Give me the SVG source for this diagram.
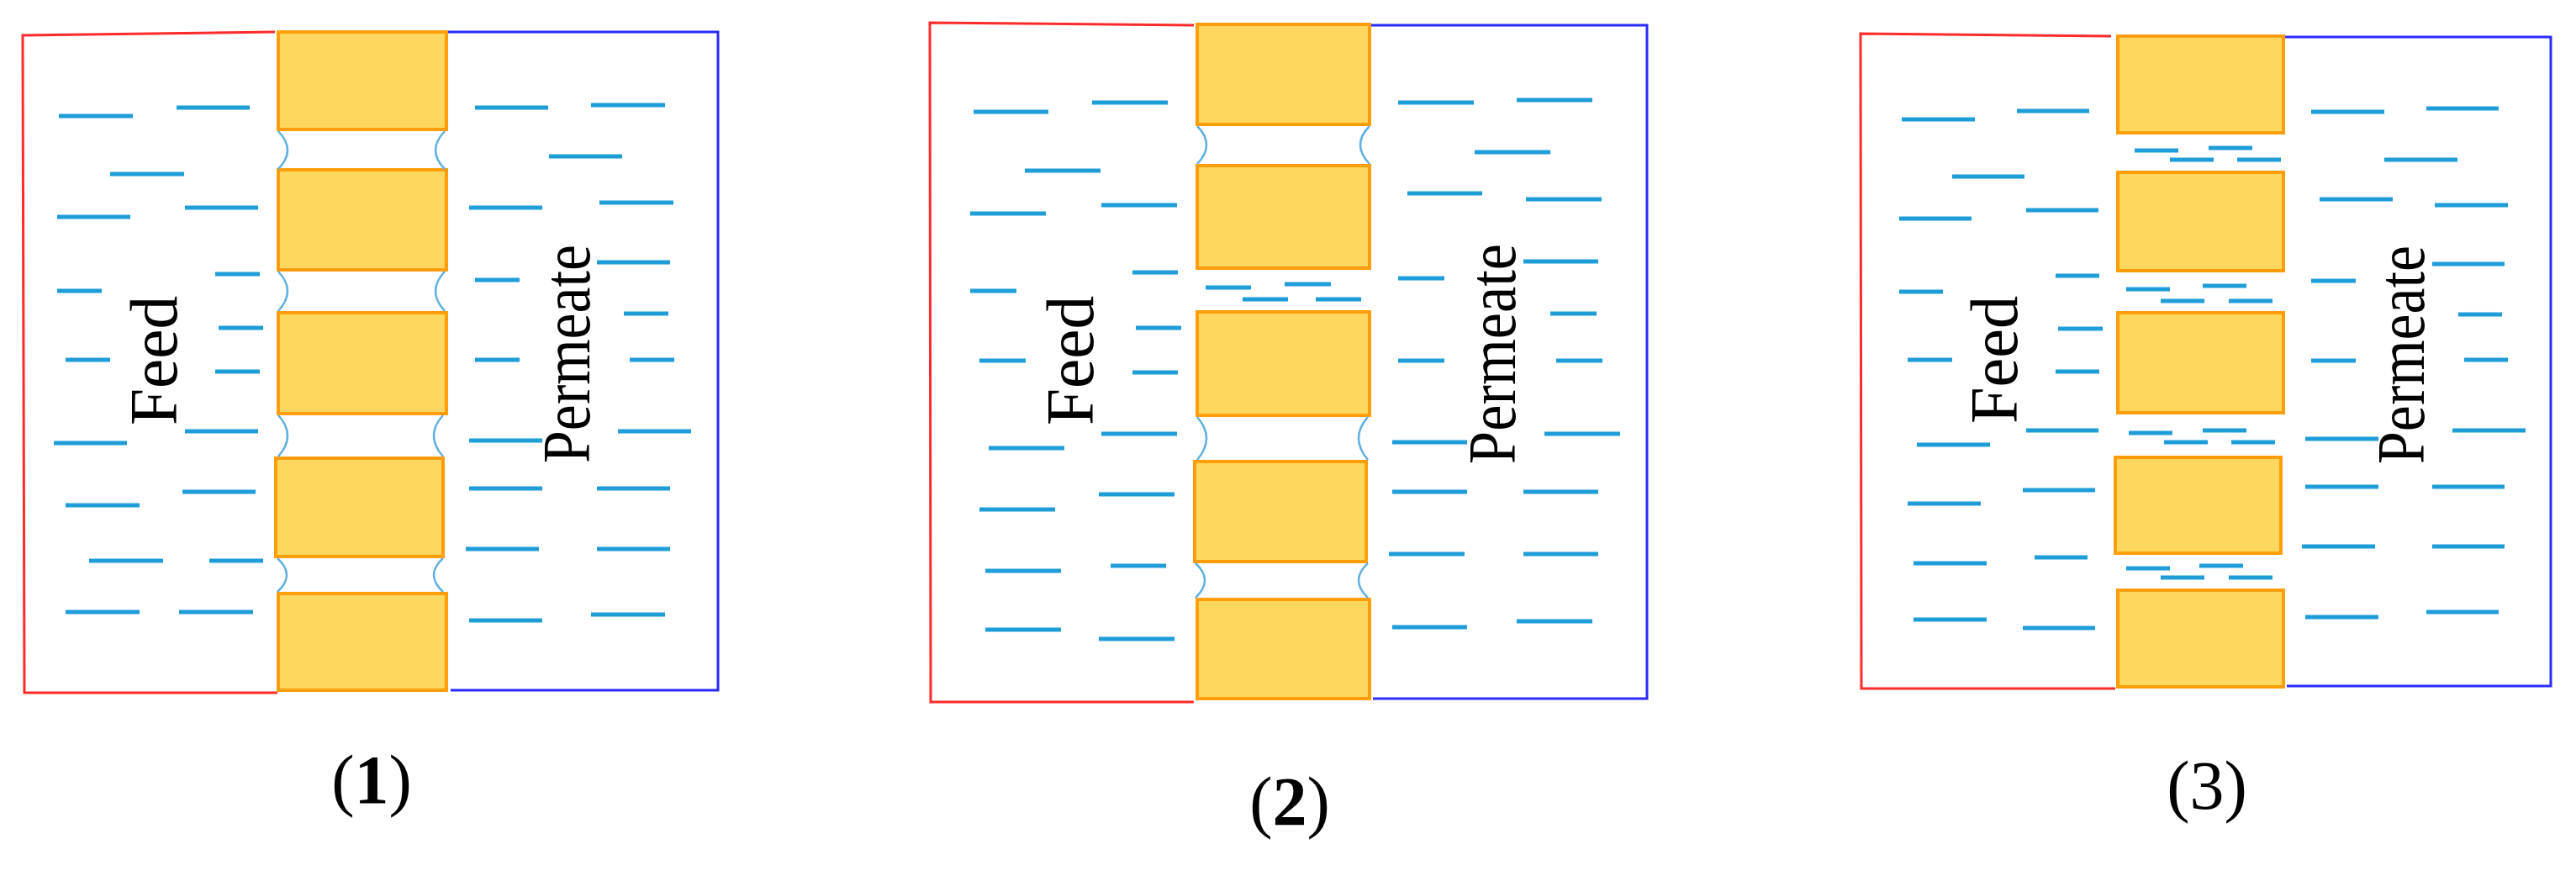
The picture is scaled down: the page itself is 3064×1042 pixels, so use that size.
<svg xmlns="http://www.w3.org/2000/svg" width="3064" height="1042" viewBox="0 0 3064 1042">
<style>
.d{stroke:#1f9dd9;stroke-width:5;fill:none}
.b{fill:#fed85e;stroke:#ff9e0a;stroke-width:4}
.r{stroke:#ff2a2a;stroke-width:3;fill:none}
.u{stroke:#2a2aff;stroke-width:3;fill:none}
.a{stroke:#5fb0e0;stroke-width:2.5;fill:none}
.t{font-family:"Liberation Serif",serif;font-size:80px;fill:#000;text-anchor:middle}
.l{font-family:"Liberation Serif",serif;font-size:82px;fill:#000;text-anchor:middle}
</style>
<rect width="3064" height="1042" fill="#fff"/>
<g id="panel1">
<path class="r" d="M327,38 L27,42 L29,824 L330,824"/>
<path class="u" d="M527,38 L854,38 L854,821 L536,821"/>
<rect class="b" x="331" y="38" width="200" height="116"/>
<rect class="b" x="331" y="202" width="200" height="119"/>
<rect class="b" x="331" y="372" width="200" height="120"/>
<rect class="b" x="328" y="545" width="199" height="117"/>
<rect class="b" x="331" y="706" width="200" height="115"/>
<path class="a" d="M331,156 Q353,179 331,201 M529,156 Q507,179 529,201 M331,323 Q353,346 331,370 M529,323 Q507,346 529,370 M331,494 Q353,518 331,543 M527,494 Q505,518 527,543 M330,664 Q352,684 330,704 M527,664 Q505,684 527,704"/>
<g class="d">
<path d="M70,138H158M210,128H297M131,207H219M68,258H155M220,247H307M256,326H309M68,346H121M260,390H313M78,428H131M256,442H309M220,513H307M64,527H151M217,585H304M78,601H166M106,667H194M249,667H313M78,728H166M213,728H301"/>
<path d="M565,128H652M703,125H791M653,186H740M558,247H645M713,241H801M710,312H797M565,333H618M742,373H795M565,428H618M749,428H802M558,524H645M735,513H822M558,581H645M710,581H797M554,653H641M710,653H797M558,738H645M703,731H791"/>
</g>
<text class="t" transform="translate(210,429) rotate(-90)" textLength="154" lengthAdjust="spacingAndGlyphs">Feed</text>
<text class="t" transform="translate(701,421) rotate(-90)" textLength="260" lengthAdjust="spacingAndGlyphs">Permeate</text>
<text class="l" x="442" y="955">(<tspan font-weight="bold">1</tspan>)</text>
</g>
<g id="panel2">
<path class="r" d="M1420,30 L1106,27 L1107,835 L1420,835"/>
<path class="u" d="M1624,30 L1959,30 L1959,831 L1633,831"/>
<rect class="b" x="1424" y="29" width="205" height="119"/>
<rect class="b" x="1424" y="197" width="205" height="122"/>
<rect class="b" x="1424" y="371" width="205" height="123"/>
<rect class="b" x="1421" y="549" width="204" height="119"/>
<rect class="b" x="1424" y="713" width="205" height="118"/>
<path class="a" d="M1424,150 Q1446,172 1424,195 M1629,150 Q1607,172 1629,195 M1424,496 Q1446,521 1424,547 M1627,496 Q1605,521 1627,547 M1422,670 Q1444,690 1422,711 M1627,670 Q1605,690 1627,711"/>
<g class="d">
<path d="M1434,342H1488M1528,338H1583M1478,356H1532M1565,356H1619"/>
<path d="M1158,133H1247M1299,122H1389M1219,203H1309M1154,254H1244M1310,244H1400M1347,324H1401M1154,346H1209M1351,390H1405M1165,429H1220M1347,443H1401M1310,516H1400M1176,533H1266M1307,588H1397M1165,606H1255M1172,679H1262M1321,673H1387M1172,749H1262M1307,760H1397"/>
<path d="M1663,122H1753M1804,119H1894M1754,181H1844M1674,230H1763M1815,237H1905M1812,311H1901M1663,331H1718M1844,373H1899M1663,429H1718M1851,429H1906M1656,526H1745M1837,516H1927M1656,585H1745M1812,585H1901M1652,659H1742M1812,659H1901M1656,746H1745M1804,739H1894"/>
</g>
<text class="t" transform="translate(1300,429) rotate(-90)" textLength="154" lengthAdjust="spacingAndGlyphs">Feed</text>
<text class="t" transform="translate(1802,421) rotate(-90)" textLength="262" lengthAdjust="spacingAndGlyphs">Permeate</text>
<text class="l" x="1534" y="981">(<tspan font-weight="bold">2</tspan>)</text>
</g>
<g id="panel3">
<path class="r" d="M2511,43 L2213,40 L2214,819 L2516,819"/>
<path class="u" d="M2711,44 L3034,44 L3034,816 L2720,816"/>
<rect class="b" x="2519" y="43" width="197" height="115"/>
<rect class="b" x="2519" y="205" width="197" height="117"/>
<rect class="b" x="2519" y="372" width="197" height="119"/>
<rect class="b" x="2516" y="544" width="197" height="114"/>
<rect class="b" x="2519" y="702" width="197" height="115"/>
<g class="d">
<path d="M2539,179H2591M2627,176H2679M2581,190H2633M2661,190H2713M2529,344H2581M2620,340H2672M2570,358H2622M2651,358H2703M2532,515H2584M2620,512H2672M2574,526H2626M2654,526H2706M2529,676H2581M2616,673H2668M2570,687H2622M2651,687H2703"/>
<path d="M2262,142H2349M2399,132H2485M2322,210H2408M2259,260H2345M2410,250H2496M2445,328H2497M2259,347H2311M2448,391H2501M2269,428H2322M2445,442H2497M2410,512H2496M2280,529H2367M2406,583H2492M2269,599H2356M2276,670H2363M2420,663H2483M2276,737H2363M2406,747H2492"/>
<path d="M2749,133H2836M2886,129H2972M2836,190H2923M2759,237H2846M2896,244H2983M2893,314H2979M2749,334H2802M2924,374H2976M2749,429H2802M2931,428H2983M2742,522H2829M2917,512H3004M2742,579H2829M2893,579H2979M2738,650H2825M2893,650H2979M2742,734H2829M2886,728H2972"/>
</g>
<text class="t" transform="translate(2399,428) rotate(-90)" textLength="152" lengthAdjust="spacingAndGlyphs">Feed</text>
<text class="t" transform="translate(2883,422) rotate(-90)" textLength="260" lengthAdjust="spacingAndGlyphs">Permeate</text>
<text class="l" x="2625" y="962">(3)</text>
</g>
<g id="connectors"/>
</svg>
